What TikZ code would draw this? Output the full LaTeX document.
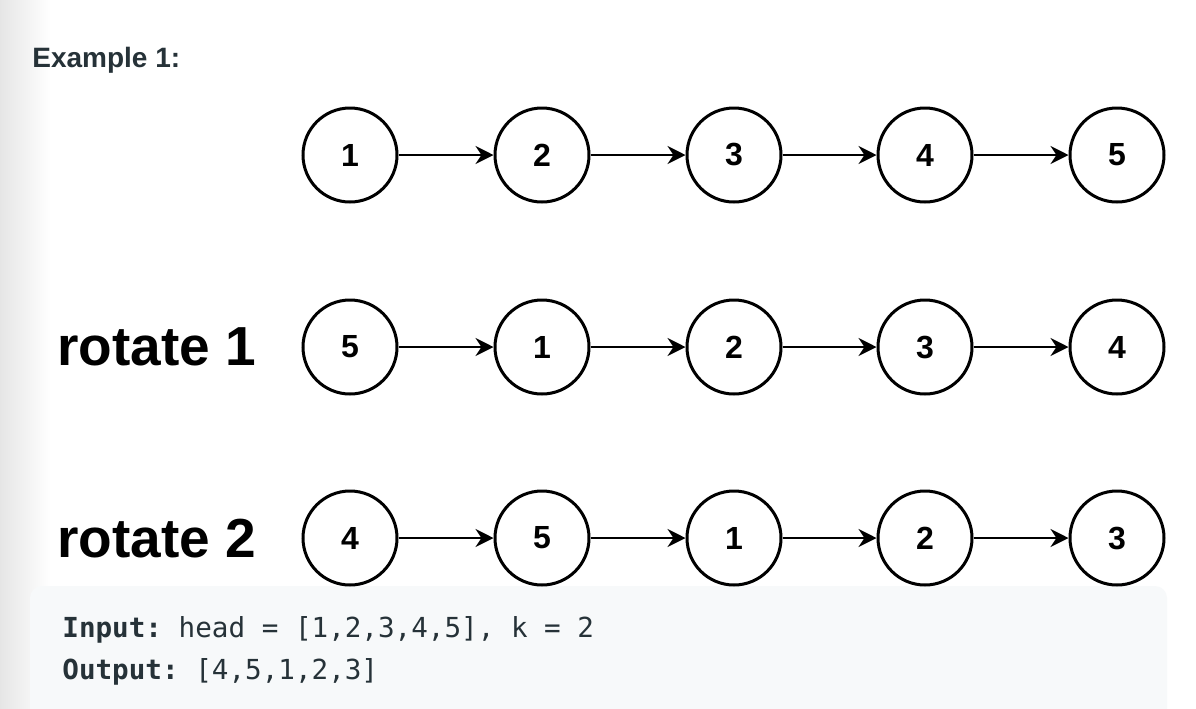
\documentclass[tikz,border=0pt]{standalone}
\usepackage{fontspec}
\setmainfont{Liberation Sans}
\setmonofont{DejaVu Sans Mono}
\usetikzlibrary{arrows.meta}
\definecolor{inktext}{HTML}{263238}
\definecolor{codebg}{HTML}{F7F9FA}
\tikzset{
  vertex/.style={circle,draw,line width=1.5pt,minimum size=47pt,inner sep=0pt,
    font=\fontsize{16}{16}\selectfont\bfseries},
  link/.style={-{Stealth[length=9pt,width=9pt,inset=3pt]},line width=1.2pt},
  rowlabel/.style={anchor=base west,inner sep=0pt,
    font=\fontsize{27.5}{27.5}\selectfont\bfseries},
  codeline/.style={anchor=base west,inner sep=0pt,text=inktext,
    font=\fontsize{13.8}{13.8}\selectfont\ttfamily},
}
\begin{document}
\begin{tikzpicture}[x=0.5pt,y=-0.5pt]
      \useasboundingbox (0,0) rectangle (1196,708);
      \fill[white] (0,0) rectangle (1196,708);
      \shade[left color=black!10,right color=white] (0,0) rectangle (50,708);
      \fill[codebg,rounded corners=6pt] (30,586) rectangle (1167,740);
      \node[anchor=base west,inner sep=0pt,text=inktext,
        font=\fontsize{14}{14}\selectfont\bfseries] (title) at (32,67) {Example 1:};
      \node[rowlabel] (rot1) at (57,365) {rotate 1};
      \node[rowlabel] (rot2) at (57,557) {rotate 2};
      \draw
        (350,155) node[vertex] (a1){1}
        (542,155) node[vertex] (a2){2}
        (734,155) node[vertex] (a3){3}
        (925,155) node[vertex] (a4){4}
        (1117,155) node[vertex] (a5){5};
      \draw
        (350,347) node[vertex] (b1){5}
        (542,347) node[vertex] (b2){1}
        (734,347) node[vertex] (b3){2}
        (925,347) node[vertex] (b4){3}
        (1117,347) node[vertex] (b5){4};
      \draw
        (350,538) node[vertex] (c1){4}
        (542,538) node[vertex] (c2){5}
        (734,538) node[vertex] (c3){1}
        (925,538) node[vertex] (c4){2}
        (1117,538) node[vertex] (c5){3};
      \begin{scope}[link]
        \draw (a1) to (a2);
        \draw (a2) to (a3);
        \draw (a3) to (a4);
        \draw (a4) to (a5);
        \draw (b1) to (b2);
        \draw (b2) to (b3);
        \draw (b3) to (b4);
        \draw (b4) to (b5);
        \draw (c1) to (c2);
        \draw (c2) to (c3);
        \draw (c3) to (c4);
        \draw (c4) to (c5);
      \end{scope}
      \node[codeline] (input) at (62,637) {\textbf{Input:} head = [1,2,3,4,5], k = 2};
      \node[codeline] (output) at (62,679) {\textbf{Output:} [4,5,1,2,3]};
    \end{tikzpicture}
\end{document}
